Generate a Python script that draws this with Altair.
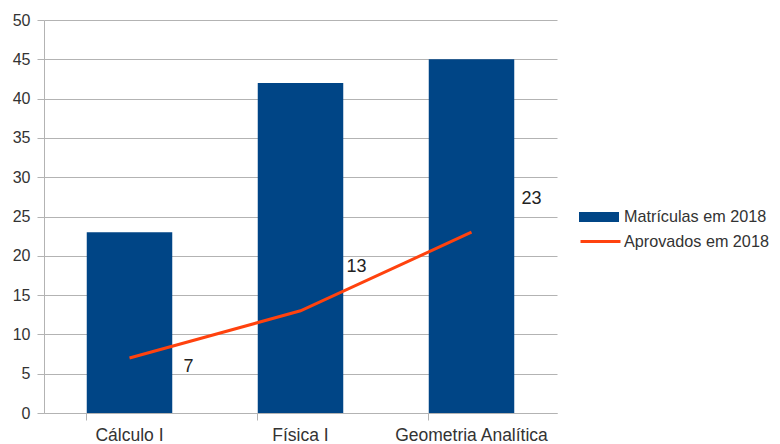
import altair as alt
import pandas as pd

categories = ["Cálculo I", "Física I", "Geometria Analítica"]
matriculas = [23, 42, 45]
aprovados = [7, 13, 23]

df = pd.DataFrame({
    "cat": categories,
    "mat": matriculas,
    "apr": aprovados,
    "s1": ["Matrículas em 2018"] * 3,
    "s2": ["Aprovados em 2018"] * 3,
})

FONT = "Liberation Sans"
BLUE = "#004586"
ORANGE = "#ff420e"

xscale = alt.Scale(paddingInner=0.5, paddingOuter=0.25)
xaxis = alt.Axis(labelAngle=0, bandPosition=0, tickSize=7, labelPadding=6,
                 domainColor="#b3b3b3", tickColor="#b3b3b3", grid=False,
                 labelFontSize=17.5, title=None)
x = alt.X("cat:N", sort=categories, title=None, scale=xscale, axis=xaxis)
yscale = alt.Scale(domain=[0, 50])
yaxis = alt.Axis(values=list(range(0, 51, 5)), tickSize=7, labelPadding=7,
                 domainColor="#b3b3b3", tickColor="#b3b3b3", gridColor="#b3b3b3",
                 title=None, labelOverlap=False, labelFontSize=16)

bars = alt.Chart(df).mark_bar(color=BLUE).encode(
    x=x,
    y=alt.Y("mat:Q", scale=yscale, axis=yaxis, title=None),
    fill=alt.Fill("s1:N", scale=alt.Scale(range=[BLUE]),
                  legend=alt.Legend(title=None, orient="none", legendX=535, legendY=177,
                                    symbolType="M-1,-0.25H1V0.25H-1Z", symbolSize=1600,
                                    symbolStrokeWidth=0, labelFontSize=16.2, labelFont=FONT,
                                    labelColor="#333333", labelOffset=5)),
)

line = alt.Chart(df).mark_line(strokeWidth=3).encode(
    x=x,
    y=alt.Y("apr:Q", scale=yscale, axis=yaxis, title=None),
    stroke=alt.Stroke("s2:N", scale=alt.Scale(range=[ORANGE]),
                      legend=alt.Legend(title=None, orient="none", legendX=535, legendY=200,
                                        symbolType="stroke", symbolSize=1600,
                                        symbolStrokeWidth=3, labelFontSize=16.2, labelFont=FONT,
                                        labelColor="#333333", labelOffset=2)),
)

label_dy = [9, -44, -33]
label_dx = [59, 56, 60]
texts = []
for i, c in enumerate(categories):
    texts.append(
        alt.Chart(df).transform_filter(alt.datum.cat == c).mark_text(
            dx=label_dx[i], dy=label_dy[i], fontSize=18, font=FONT, color="#222222"
        ).encode(
            x=x,
            y=alt.Y("apr:Q", scale=yscale, axis=yaxis, title=None),
            text="apr:Q",
        )
    )

chart = alt.layer(bars, line, *texts).resolve_scale(fill="independent", stroke="independent").properties(
    width=513, height=393,
    autosize=alt.AutoSizeParams(type="none"),
    padding={"left": 36, "top": 12, "right": 215, "bottom": 30},
).configure_view(stroke=None).configure_axis(
    labelFont=FONT, labelColor="#333333"
)

chart.save("out.html", embed_options={"renderer": "svg", "actions": False})
